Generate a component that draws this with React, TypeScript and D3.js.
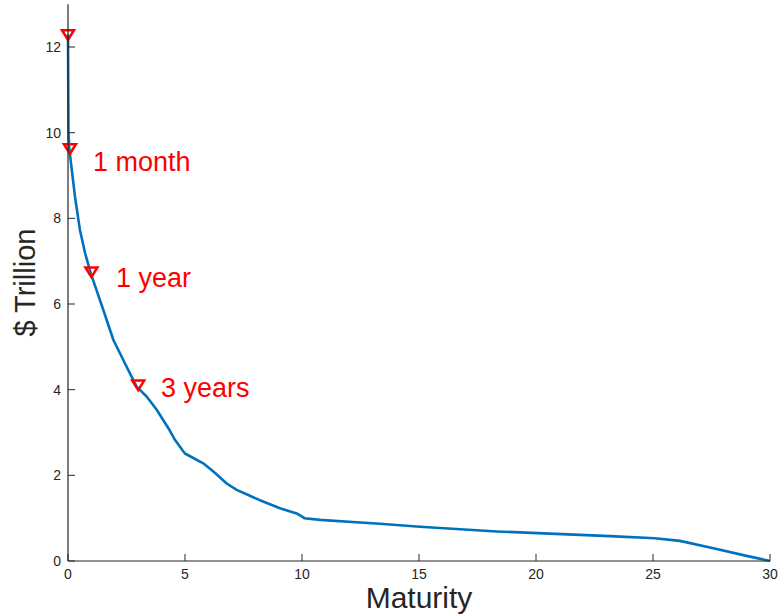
import React from "react";
import * as d3 from "d3";

const maturity = [0, 0.02, 0.06, 0.3, 0.51, 0.73, 0.97, 1.51, 1.94, 2.5, 2.93, 3.36, 3.79, 4.29, 4.57, 4.9, 5.0, 5.78, 6.3, 6.78, 7.21, 8.2, 9.06, 9.77, 9.99, 10.1, 10.77, 12.48, 13.33, 15.04, 18.32, 20.07, 23.16, 25.08, 26.15, 27.58, 29.0, 30.0];
const amount = [12.3, 10.0, 9.6, 8.5, 7.73, 7.19, 6.72, 5.86, 5.16, 4.54, 4.07, 3.84, 3.53, 3.1, 2.83, 2.58, 2.51, 2.28, 2.05, 1.81, 1.66, 1.42, 1.23, 1.11, 1.04, 1.0, 0.96, 0.9, 0.87, 0.8, 0.69, 0.65, 0.58, 0.53, 0.47, 0.3, 0.12, 0.0];

const markerX = [0, 0.083, 1, 3];
const markerY = [12.28, 9.62, 6.74, 4.1];

const labelText = ["1 month", "1 year", "3 years"];
const labelX = [1.07, 2.05, 3.97];
const labelY = [9.34, 6.63, 4.06];

const xTicks = [0, 5, 10, 15, 20, 25, 30];
const yTicks = [0, 2, 4, 6, 8, 10, 12];

const W = 781, H = 616;
const left = 68, right = 770, top = 4.2, bottom = 561;

export default function App() {
  const x = d3.scaleLinear().domain([0, 30]).range([left, right]);
  const y = d3.scaleLinear().domain([0, 13]).range([bottom, top]);
  const pts: [number, number][] = maturity.map((m, i) => [m, amount[i]]);
  const line = d3.line<[number, number]>().x(d => x(d[0])).y(d => y(d[1]));
  const font = "'Liberation Sans', Arial, Helvetica, sans-serif";
  const tri = (cx: number, cy: number) => {
    const w = 6, h = 4.8;
    return `M${cx - w},${cy - h}L${cx + w},${cy - h}L${cx},${cy + h}Z`;
  };
  return (
    <svg width={W} height={H} style={{ position: "absolute", left: 0, top: 0, background: "#fff" }} fontFamily={font}>
      <rect width={W} height={H} fill="#fff" />
      <path d={line(pts) || ""} fill="none" stroke="#0072BD" strokeWidth={2.6} strokeLinejoin="round" />
      {markerX.map((m, i) => (
        <path key={"m" + i} d={tri(x(m), y(markerY[i]))} fill="none" stroke="#FF0000" strokeWidth={2.5} strokeLinejoin="miter" />
      ))}
      {labelText.map((t, i) => (
        <text key={"t" + i} x={x(labelX[i])} y={y(labelY[i])} dy="0.36em" fontSize={27} fill="#FF0000">{t}</text>
      ))}
      <line x1={left} x2={right} y1={bottom} y2={bottom} stroke="#262626" strokeWidth={1.2} />
      <line x1={left} x2={left} y1={top} y2={bottom} stroke="#262626" strokeWidth={1.2} />
      {xTicks.map(t => (
        <g key={"x" + t}>
          <line x1={x(t)} x2={x(t)} y1={bottom} y2={bottom - 7} stroke="#262626" strokeWidth={1} />
          <text x={x(t)} y={bottom + 18} fontSize={14} fill="#262626" textAnchor="middle">{t}</text>
        </g>
      ))}
      {yTicks.map(t => (
        <g key={"y" + t}>
          <line x1={left} x2={left + 7} y1={y(t)} y2={y(t)} stroke="#262626" strokeWidth={1} />
          <text x={left - 7} y={y(t) + 5} fontSize={14} fill="#262626" textAnchor="end">{t}</text>
        </g>
      ))}
      <text x={(left + right) / 2} y={608} fontSize={30} fill="#262626" textAnchor="middle">Maturity</text>
      <text transform={`translate(35,${(top + bottom) / 2}) rotate(-90)`} fontSize={29} fill="#262626" textAnchor="middle">$ Trillion</text>
    </svg>
  );
}
